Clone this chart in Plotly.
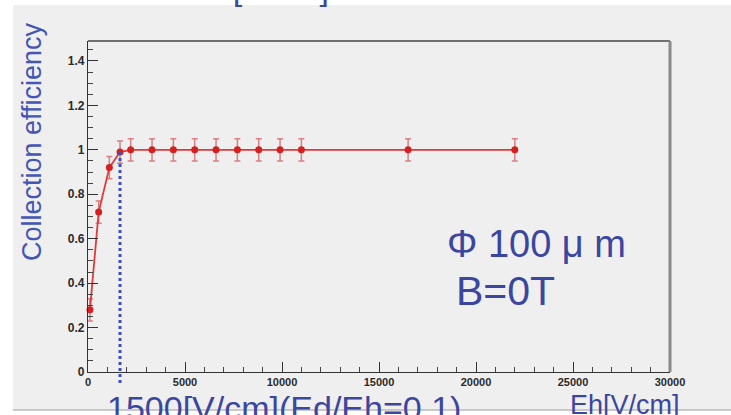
import plotly.graph_objects as go

# Data
eh = [100, 550, 1100, 1650, 2200, 3300, 4400, 5500, 6600, 7700, 8800, 9900, 11000, 16500, 22000]
eff = [0.28, 0.72, 0.92, 0.99, 1.0, 1.0, 1.0, 1.0, 1.0, 1.0, 1.0, 1.0, 1.0, 1.0, 1.0]
err = [0.05] * len(eh)
threshold_eh = 1650
threshold_top = 1.0
x_ticks = [0, 5000, 10000, 15000, 20000, 25000, 30000]
x_tick_text = ["0", "5000", "10000", "15000", "20000", "25000", "30000"]
y_ticks = [0, 0.2, 0.4, 0.6, 0.8, 1.0, 1.2, 1.4]
y_tick_text = ["0", "0.2", "0.4", "0.6", "0.8", "1", "1.2", "1.4"]
x_range = [0, 30000]
y_range = [0, 1.49]

W, H = 731, 415
L, R, T, B = 88, 61, 41, 43
plot_h = H - T - B
bg = "#efefef"
blue_txt = "#3b46a0"

fig = go.Figure()

fig.add_trace(go.Scatter(
    x=eh, y=eff, mode="lines+markers",
    line=dict(color="#e03a3a", width=1.8),
    marker=dict(color="#d42020", size=7, symbol="circle"),
    error_y=dict(type="data", array=err, color="#d88080", thickness=1.5, width=3),
    showlegend=False, cliponaxis=False,
))

# dotted threshold line (extends slightly below the axis)
fig.add_shape(type="line", xref="x", yref="paper",
              x0=threshold_eh, x1=threshold_eh,
              y0=-11 / plot_h, y1=(threshold_top - y_range[0]) / (y_range[1] - y_range[0]),
              line=dict(color="#3f4fb8", width=3, dash="dot"), layer="above")

# canvas background
fig.add_shape(type="rect", xref="paper", yref="paper",
              x0=(13 - L) / (W - L - R), x1=(W + 5 - L) / (W - L - R),
              y0=(H - B - 410) / plot_h, y1=(H - B - 5) / plot_h,
              fillcolor=bg, line=dict(width=0), layer="below")
# bottom edge line of canvas
fig.add_shape(type="line", xref="paper", yref="paper",
              x0=(13 - L) / (W - L - R), x1=(W + 5 - L) / (W - L - R),
              y0=(H - B - 410) / plot_h, y1=(H - B - 410) / plot_h,
              line=dict(color="#b8b8b8", width=1.5), layer="below")
# frame: top and right in grey
fig.add_shape(type="line", xref="paper", yref="paper", x0=0, x1=1, y0=1, y1=1,
              line=dict(color="#707070", width=2))
fig.add_shape(type="line", xref="paper", yref="paper", x0=1, x1=1, y0=0, y1=1,
              line=dict(color="#8a8a8a", width=3))

ytickfont = dict(family="Liberation Sans", size=12, color="#2a2a2a", weight="bold")
xtickfont = dict(family="Liberation Sans", size=11, color="#2a2a2a", weight="bold")
fig.update_xaxes(range=x_range, tickvals=x_ticks, ticktext=x_tick_text, ticks="inside", ticklen=10,
                 tickcolor="#333", tickwidth=1, showline=True, linecolor="#333",
                 linewidth=1.2, showgrid=False, zeroline=False, tickfont=xtickfont,
                 minor=dict(dtick=1000, ticks="inside", ticklen=5, tickcolor="#444", showgrid=False))
fig.update_yaxes(range=y_range, tickvals=y_ticks, ticktext=y_tick_text, ticks="inside",
                 ticklen=10, tickcolor="#333", tickwidth=1, showline=True, linecolor="#333",
                 linewidth=1.2, showgrid=False, zeroline=False, tickfont=ytickfont,
                 minor=dict(dtick=0.05, ticks="inside", ticklen=5, tickcolor="#444", showgrid=False))

ann_font = "Liberation Sans"
annotations = [
    dict(text="Collection efficiency", x=32, y=142, textangle=-90,
         font=dict(family=ann_font, size=27, color="#4455b5")),
    dict(text="Φ 100 μ m", x=536, y=244, font=dict(family=ann_font, size=38, color=blue_txt)),
    dict(text="B=0T", x=505, y=291, font=dict(family=ann_font, size=41, color=blue_txt)),
    dict(text="Eh[V/cm]", x=625, y=405, font=dict(family=ann_font, size=27, color=blue_txt)),
    dict(text="1500[V/cm](Ed/Eh=0.1)", x=284, y=408, font=dict(family=ann_font, size=34, color=blue_txt)),
    dict(text="1500[V/cm]", x=243, y=-12, font=dict(family=ann_font, size=34, color=blue_txt)),
]
for a in annotations:
    fig.add_annotation(text=a["text"], xref="paper", yref="paper",
                       x=(a["x"] - L) / (W - L - R), y=(H - B - a["y"]) / plot_h,
                       xanchor="center", yanchor="middle", showarrow=False,
                       textangle=a.get("textangle", 0), font=a["font"])

fig.update_layout(width=W, height=H, margin=dict(l=L, r=R, t=T, b=B),
                  paper_bgcolor="white", plot_bgcolor=bg)

fig.write_html("out.html")
